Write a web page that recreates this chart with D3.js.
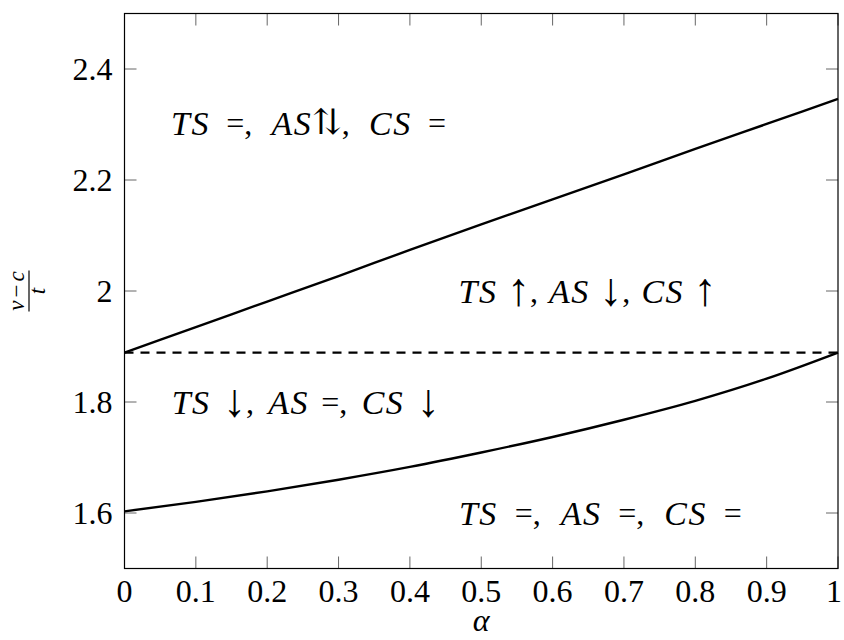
<!DOCTYPE html>
<html>
<head>
<meta charset="utf-8">
<script src="https://cdn.jsdelivr.net/npm/d3@7"></script>
<style>
  body { margin: 0; background: #fff; }
  svg text { font-family: "Liberation Serif", "DejaVu Serif", serif; fill: #000; }
</style>
</head>
<body>
<div id="chart"></div>
<script>
// data
const alphaVals = [0, 0.1, 0.2, 0.3, 0.4, 0.5, 0.6, 0.7, 0.8, 0.9, 1];
const upperVals = [1.889, 1.935, 1.981, 2.027, 2.074, 2.120, 2.165, 2.210, 2.256, 2.301, 2.346];
const lowerVals = [1.603, 1.620, 1.639, 1.660, 1.683, 1.709, 1.737, 1.768, 1.802, 1.842, 1.889];
const dashedLevel = 1.889;

const xTicks = [0, 0.1, 0.2, 0.3, 0.4, 0.5, 0.6, 0.7, 0.8, 0.9, 1];
const yTicks = [1.6, 1.8, 2.0, 2.2, 2.4];

// region labels, anchored in data coords. kinds: i = italic, r = relation, o = ordinary symbol, p = punct
const regionLabels = [
    { x: 0.258, y: 2.302, len: 275, parts: [["TS", "i"], ["=", "r"], [",", "p"], ["AS", "i"], ["⇅", "o"], [",", "p"], ["CS", "i"], ["=", "r"]] },
    { x: 0.649, y: 2.0,   len: 258, parts: [["TS", "i"], ["↑", "r"], [",", "p"], ["AS", "i"], ["↓", "r"], [",", "p"], ["CS", "i"], ["↑", "r"]] },
    { x: 0.254, y: 1.8,   len: 268, parts: [["TS", "i"], ["↓", "r"], [",", "p"], ["AS", "i"], ["=", "r"], [",", "p"], ["CS", "i"], ["↓", "r"]] },
    { x: 0.667, y: 1.6,   len: 283, parts: [["TS", "i"], ["=", "r"], [",", "p"], ["AS", "i"], ["=", "r"], [",", "p"], ["CS", "i"], ["=", "r"]] }
];

const width = 844, height = 640;
const fontSize = 32;

const svg = d3.select("#chart").append("svg")
    .attr("width", width)
    .attr("height", height);

const x = d3.scaleLinear().domain([0, 1]).range([124.5, 838]);
const y = d3.scaleLinear().domain([1.5, 2.5]).range([568.5, 13.5]);

const tickLen = 12;

// ticks (inside, on all four sides)
const tickG = svg.append("g").attr("stroke", "#666").attr("stroke-width", 1);
xTicks.forEach(t => {
    tickG.append("line").attr("x1", x(t)).attr("x2", x(t)).attr("y1", y(1.5)).attr("y2", y(1.5) - tickLen);
    tickG.append("line").attr("x1", x(t)).attr("x2", x(t)).attr("y1", y(2.5)).attr("y2", y(2.5) + tickLen);
});
yTicks.forEach(t => {
    tickG.append("line").attr("x1", x(0)).attr("x2", x(0) + tickLen).attr("y1", y(t)).attr("y2", y(t));
    tickG.append("line").attr("x1", x(1)).attr("x2", x(1) - tickLen).attr("y1", y(t)).attr("y2", y(t));
});

// tick labels
svg.append("g").selectAll("text")
    .data(xTicks)
    .join("text")
    .attr("x", d => Math.min(x(d), width - 10))
    .attr("y", 601.5)
    .attr("text-anchor", "middle")
    .attr("font-size", fontSize)
    .text(d => String(d));

svg.append("g").selectAll("text")
    .data(yTicks)
    .join("text")
    .attr("x", 112.5)
    .attr("y", d => y(d))
    .attr("dy", "0.34em")
    .attr("text-anchor", "end")
    .attr("font-size", fontSize)
    .text(d => String(+d.toFixed(1)));

// dashed line
svg.append("line")
    .attr("x1", x(0)).attr("x2", x(1))
    .attr("y1", y(dashedLevel)).attr("y2", y(dashedLevel))
    .attr("stroke", "#000")
    .attr("stroke-width", 2.2)
    .attr("stroke-dasharray", "9,7");

const line = d3.line()
    .x((d, i) => x(alphaVals[i]))
    .y(d => y(d))
    .curve(d3.curveMonotoneX);

[upperVals, lowerVals].forEach(vals => {
    svg.append("path")
        .attr("d", line(vals))
        .attr("fill", "none")
        .attr("stroke", "#000")
        .attr("stroke-width", 2.4);
});

// axis box
svg.append("rect")
    .attr("x", x(0)).attr("y", y(2.5))
    .attr("width", x(1) - x(0)).attr("height", y(1.5) - y(2.5))
    .attr("fill", "none")
    .attr("stroke", "#000")
    .attr("stroke-width", 1.2);

// region labels: laid out piece by piece, then gaps stretched to the measured width
regionLabels.forEach(lab => {
    const g = svg.append("g");
    const pieces = [];
    const gaps = [];   // base gap before each piece, in em
    lab.parts.forEach((p, i) => {
        const prev = i > 0 ? lab.parts[i - 1][1] : null;
        let gap = 0;
        if (p[1] === "r") gap = 0.28;
        else if (p[1] === "i" && prev === "p") gap = 0.33;
        gaps.push(gap);
        const isArrow = p[0] !== "=" && (p[1] === "r" || p[1] === "o");
        const t = g.append("text")
            .attr("y", y(lab.y))
            .attr("dy", isArrow ? "0.3em" : "0.34em")
            .attr("font-size", isArrow ? fontSize * (p[1] === "o" ? 1.1 : 1.45) : (p[1] === "i" ? fontSize * 1.06 : fontSize))
            .attr("font-style", p[1] === "i" ? "italic" : "normal")
            .attr("letter-spacing", p[1] === "i" ? 1.5 : 0)
            .text(p[0]);
        pieces.push(t);
    });
    const widths = pieces.map(t => t.node().getComputedTextLength());
    const stretchable = d3.sum(gaps);
    const k = Math.max(0, (lab.len - d3.sum(widths)) / (stretchable * fontSize));
    const total = d3.sum(widths) + stretchable * fontSize * k;
    let cx = x(lab.x) - total / 2;
    pieces.forEach((t, i) => {
        cx += gaps[i] * fontSize * k;
        t.attr("x", cx);
        cx += widths[i];
    });
});

// x axis label
svg.append("text")
    .attr("x", x(0.5))
    .attr("y", 631)
    .attr("text-anchor", "middle")
    .attr("font-size", fontSize)
    .attr("font-style", "italic")
    .text("α");

// y axis label: fraction (v-c)/t, rotated
const yl = svg.append("g").attr("transform", "translate(29,291) rotate(-90)");
const num = yl.append("text")
    .attr("x", 0).attr("y", -5)
    .attr("text-anchor", "middle")
    .attr("font-size", 23);
num.append("tspan").attr("font-style", "italic").text("v");
num.append("tspan").attr("dx", 3).text("−");
num.append("tspan").attr("dx", 3).attr("font-style", "italic").text("c");
yl.append("line")
    .attr("x1", -20.5).attr("x2", 20.5)
    .attr("y1", 0).attr("y2", 0)
    .attr("stroke", "#000").attr("stroke-width", 1.2);
yl.append("text")
    .attr("x", 0).attr("y", 16)
    .attr("text-anchor", "middle")
    .attr("font-size", 23)
    .attr("font-style", "italic")
    .text("t");
</script>
</body>
</html>
